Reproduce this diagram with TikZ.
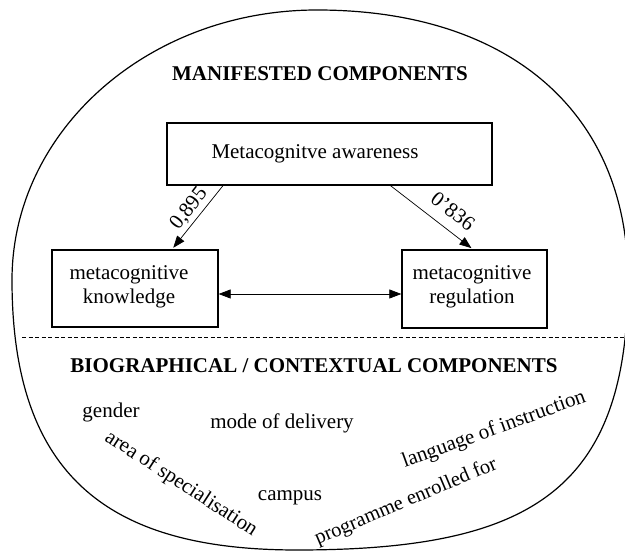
\documentclass[tikz,border=0pt]{standalone}
\usepackage{fontspec}
\setmainfont{Liberation Serif}
\usetikzlibrary{arrows.meta}
\begin{document}
\begin{tikzpicture}[x=1pt,y=1pt,
  every node/.style={font=\fontsize{21}{24}\selectfont, inner sep=0pt},
  boxed/.style={draw, line width=1.3pt, align=center},
  txt/.style={align=center},
  hdr/.style={font=\fontsize{21}{24}\selectfont\bfseries},
  arr/.style={-{Triangle[length=12pt,width=9pt]}, line width=0.7pt},
  darr/.style={{Triangle[length=12pt,width=9pt]}-{Triangle[length=12pt,width=9pt]}, line width=0.7pt},
  outline/.style={line width=1.2pt},
  divider/.style={line width=0.9pt, dash pattern=on 4pt off 2.5pt}]
\useasboundingbox (0,0) rectangle (625,552);
% outer oval
\draw[outline] (12,272) .. controls (12,421) and (148,542) .. (317,542)
  .. controls (510,542) and (628,439) .. (628,272)
  .. controls (628,61) and (530,2) .. (297,2)
  .. controls (115,2) and (12,70) .. (12,272) -- cycle;
% divider
\coordinate (dl) at (22,215);
\coordinate (dr) at (625,215);
\draw[divider] (dl) -- (dr);
% upper part
\node[hdr] (mc) at (320,478) {MANIFESTED COMPONENTS};
\node[boxed, minimum width=325pt, minimum height=62pt] (ma) at (329.5,398) {};
\node (mat) at (315,398) {Metacognitve awareness};
\node[boxed, minimum width=166pt, minimum height=77pt] (mk) at (135,263.5) {};
\node[txt] (mkt) at (129,265) {metacognitive\\knowledge};
\node[boxed, minimum width=145pt, minimum height=78pt] (mr) at (474.5,263) {};
\node[txt] (mrt) at (472,265) {metacognitive\\regulation};
\draw[arr, shorten >=2pt] ([xshift=-106.5pt]ma.south) -- ([xshift=37pt]mk.north);
\draw[arr, shorten >=2pt] ([xshift=61pt]ma.south) -- ([xshift=-1.5pt]mr.north);
\node[rotate=52] (l1) at (189,343) {0,895};
\node[rotate=-38] (l2) at (453,341) {0'836};
\draw[darr] ([yshift=-5.5pt]mk.east) -- ([yshift=-5pt]mr.west);
% lower part
\node[hdr] (bc) at (314,186) {BIOGRAPHICAL / CONTEXTUAL COMPONENTS};
\node (g) at (111,140) {gender};
\node (md) at (282,129) {mode of delivery};
\node (cp) at (290,54) {campus};
\node[rotate=-33] (as) at (181,68) {area of specialisation};
\node[rotate=20] (li) at (494,122) {language of instruction};
\node[rotate=23, font=\fontsize{20.5}{23}\selectfont] (pe) at (406,50) {programme enrolled for};
\end{tikzpicture}
\end{document}
